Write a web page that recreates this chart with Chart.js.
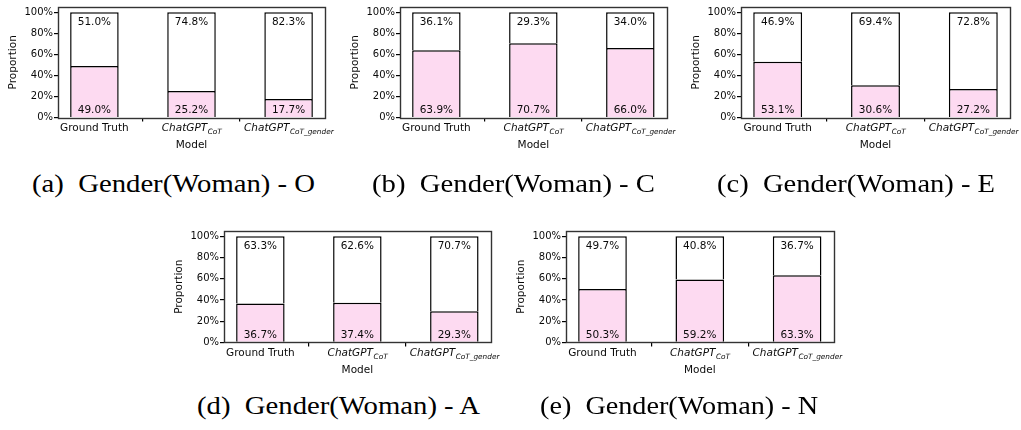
<!DOCTYPE html>
<html>
<head>
<meta charset="utf-8">
<title>Gender(Woman) proportions</title>
<script src="https://cdn.jsdelivr.net/npm/chart.js@4.4.0/dist/chart.umd.min.js"></script>
<style>
  body { margin: 0; background: #fff; width: 1021px; height: 430px; position: relative; overflow: hidden; }
  canvas { position: absolute; }
  .cap { position: absolute; font-family: "Liberation Serif", serif; font-size: 25px; line-height: 25px;
         white-space: nowrap; color: #000; transform-origin: 0 0; }
</style>
</head>
<body>
<script>
// --------------------- Data ---------------------
const categories = [["Ground Truth", ""], ["ChatGPT", "CoT"], ["ChatGPT", "CoT_gender"]];
const yTicks = [0, 20, 40, 60, 80, 100];
const captionTags = ["(a)", "(b)", "(c)", "(d)", "(e)"];
const captionTexts = ["Gender(Woman) - O", "Gender(Woman) - C", "Gender(Woman) - E",
                      "Gender(Woman) - A", "Gender(Woman) - N"];

const womanO = [49.0, 25.2, 17.7];
const otherO = [51.0, 74.8, 82.3];
const womanC = [63.9, 70.7, 66.0];
const otherC = [36.1, 29.3, 34.0];
const womanE = [53.1, 30.6, 27.2];
const otherE = [46.9, 69.4, 72.8];
const womanA = [36.7, 37.4, 29.3];
const otherA = [63.3, 62.6, 70.7];
const womanN = [50.3, 59.2, 63.3];
const otherN = [49.7, 40.8, 36.7];

// --------------------- Layout ---------------------
const FONT = "'DejaVu Sans', sans-serif";
const PINK = "#fddaf1";
const INK = "#0a0a0a";
const panels = [
  { L: 58,    T: 2.7,   R: 325,   B: 117.3, cx: 173.5, cy: 185,   cw: 283, lower: womanO, upper: otherO },
  { L: 400,   T: 2.7,   R: 666.7, B: 117.3, cx: 513.5, cy: 185,   cw: 283, lower: womanC, upper: otherC },
  { L: 741,   T: 2.7,   R: 1010,  B: 117.3, cx: 856,   cy: 185,   cw: 278, lower: womanE, upper: otherE },
  { L: 224.3, T: 227.3, R: 491,   B: 342.7, cx: 338,   cy: 406.7, cw: 283, lower: womanA, upper: otherA },
  { L: 565.7, T: 227.3, R: 833.3, B: 342.7, cx: 679,   cy: 406.7, cw: 278, lower: womanN, upper: otherN }
];

// --------------------- Plugins ---------------------
const framePlugin = {
  id: "frame",
  afterDatasetsDraw(chart) {
    const { ctx, chartArea: a } = chart;
    ctx.save();
    ctx.strokeStyle = "#333";
    ctx.lineWidth = 1.4;
    ctx.strokeRect(Math.round(a.left) + 0.5, Math.round(a.top) + 0.5,
                   Math.round(a.right - a.left), Math.round(a.bottom - a.top));
    ctx.restore();
  }
};

const labelPlugin = {
  id: "labels",
  afterDraw(chart) {
    const { ctx, chartArea } = chart;
    const xs = chart.scales.x, ys = chart.scales.y;
    const lower = chart.data.datasets[0].data;
    const upper = chart.data.datasets[1].data;
    ctx.save();
    ctx.fillStyle = INK;

    // bar value labels
    ctx.font = "10.5px " + FONT;
    ctx.textAlign = "center";
    ctx.textBaseline = "alphabetic";
    lower.forEach((p, i) => {
      const cx = xs.getPixelForValue(p.x);
      ctx.fillText(p.y.toFixed(1) + "%", cx, ys.getPixelForValue(0) - 4.5);
      ctx.fillText(upper[i].y.toFixed(1) + "%", cx, ys.getPixelForValue(p.y + upper[i].y) + 12.5);
    });

    // x tick labels (with subscripts)
    const base = chartArea.bottom + 13.7;
    ctx.textAlign = "left";
    categories.forEach(([main, sub], i) => {
      const cx = xs.getPixelForValue(i);
      if (!sub) {
        ctx.font = "10.5px " + FONT;
        const w = ctx.measureText(main).width;
        ctx.fillText(main, cx - w / 2, base);
        return;
      }
      const mainFont = "italic 10.5px " + FONT;
      const subFont = "italic 7.35px " + FONT;
      ctx.font = mainFont;
      const w1 = ctx.measureText(main).width;
      ctx.font = subFont;
      const w2 = ctx.measureText(sub).width;
      const x0 = cx - (w1 + w2) / 2;
      ctx.font = mainFont;
      ctx.fillText(main, x0, base);
      ctx.font = subFont;
      ctx.fillText(sub, x0 + w1 + 0.5, base + 2.5);
    });
    ctx.restore();
  }
};

// --------------------- Charts ---------------------
function makeChart(p) {
  const padL = 58, padT = 3, padR = 30, H = 160;
  const w = p.R - p.L, h = p.B - p.T;
  const canvas = document.createElement("canvas");
  canvas.width = Math.round(padL + w + padR);
  canvas.height = H;
  canvas.style.left = (p.L - padL) + "px";
  canvas.style.top = (p.T - padT) + "px";
  document.body.appendChild(canvas);

  const modelOffset = H - padT - h - 28;   // canvas bottom -> "Model" centre

  new Chart(canvas, {
    type: "bar",
    data: {
      datasets: [
        { data: p.lower.map((v, i) => ({ x: i, y: v })), backgroundColor: PINK, borderColor: "#000", borderWidth: 1.5 },
        { data: p.upper.map((v, i) => ({ x: i, y: v })), backgroundColor: "#fff", borderColor: "#000", borderWidth: 1.5 }
      ]
    },
    options: {
      responsive: false,
      animation: false,
      events: [],
      layout: { padding: { left: 0, top: padT, right: canvas.width - padL - w, bottom: 0 } },
      plugins: { legend: { display: false }, tooltip: { enabled: false } },
      datasets: { bar: { barPercentage: 0.5, categoryPercentage: 1 } },
      scales: {
        x: {
          type: "linear", stacked: true, min: -0.375, max: 2.375, offset: false,
          afterBuildTicks: s => { s.ticks = categories.map((c, i) => ({ value: i })); },
          afterFit: s => { s.height = H - padT - h; },
          ticks: { display: false },
          grid: { drawOnChartArea: false, drawTicks: true, tickLength: 4, color: "#000", lineWidth: 1.2 },
          border: { display: false },
          title: { display: true, text: "Model", color: INK, font: { family: FONT, size: 10.5 },
                   padding: { top: 0, bottom: modelOffset - 6.3 } }
        },
        y: {
          stacked: true, min: 0, max: 105,
          afterBuildTicks: s => { s.ticks = yTicks.map(v => ({ value: v })); },
          afterFit: s => { s.width = padL; },
          ticks: { color: INK, padding: 1, font: { family: FONT, size: 10 }, callback: v => v + "%" },
          grid: { drawOnChartArea: false, drawTicks: true, tickLength: 4, color: "#000", lineWidth: 1.2 },
          border: { display: false },
          title: { display: true, text: "Proportion", color: INK, font: { family: FONT, size: 10.5 },
                   padding: { top: 6.7, bottom: 0 } }
        }
      }
    },
    plugins: [framePlugin, labelPlugin]
  });
}

panels.forEach(makeChart);

// --------------------- Captions ---------------------
panels.forEach((p, k) => {
  const d = document.createElement("div");
  d.className = "cap";
  d.textContent = captionTags[k] + "\u2002" + captionTexts[k];
  document.body.appendChild(d);
  const m = d.getBoundingClientRect().width;
  d.style.left = (p.cx - p.cw / 2) + "px";
  d.style.top = (p.cy - 14) + "px";
  d.style.transform = "scaleX(" + (p.cw / m) + ")";
});
</script>
</body>
</html>
